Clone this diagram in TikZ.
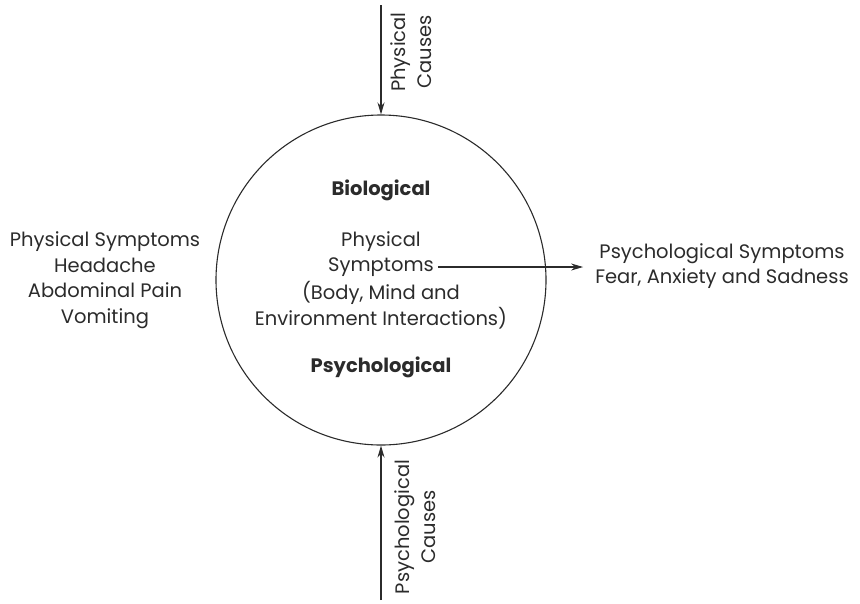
\documentclass[tikz,border=0pt]{standalone}
\usepackage{fontspec}
\setmainfont{Poppins}
\usetikzlibrary{arrows.meta}
\definecolor{ink}{HTML}{2B2B2B}
\begin{document}
\begin{tikzpicture}[x=1pt,y=-1pt,
  lbl/.style={text=ink,font=\fontsize{19.5}{25.5}\selectfont,align=center,inner sep=0pt},
  bold/.style={lbl,font=\fontsize{19.5}{25.5}\selectfont\bfseries},
  conn/.style={draw=ink,line width=1.1pt,-{Stealth[length=12pt,width=7pt]}}]
\useasboundingbox (0,0) rectangle (860,603);
% central circle
\node[circle,draw=ink,line width=1.1pt,minimum size=330pt,inner sep=0pt] (c) at (381,280) {};
\node[bold] (bio) at (381,190) {Biological};
\node[bold] (psy) at (381,367) {Psychological};
\node[lbl] (phys) at (381,242) {Physical};
\node[lbl] (symp) at (381,267) {Symptoms};
\node[lbl] (body) at (381,293) {(Body, Mind and};
\node[lbl] (env) at (381,318) {Environment Interactions)};
% side texts
\node[lbl] (left) at (105,280) {Physical Symptoms\\Headache\\Abdominal Pain\\Vomiting};
\node[lbl] (right) at (722,266) {Psychological Symptoms\\Fear, Anxiety and Sadness};
% causes
\coordinate (ttop) at (381,5);
\coordinate (bbot) at (381,600);
\node[lbl,rotate=90] (pc) at (411,52) {Physical\\Causes};
\node[lbl,rotate=90] (sc) at (415,527) {Psychological\\Causes};
% connectors
\draw[conn] (ttop) -- (c.north);
\draw[conn] (bbot) -- (c.south);
\draw[conn] ([xshift=4pt]symp.east) -- ([xshift=-12pt]right.west |- symp.east);
\end{tikzpicture}
\end{document}
